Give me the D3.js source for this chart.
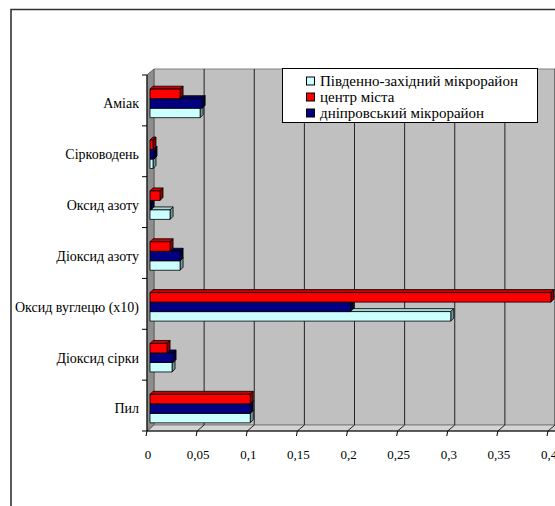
<!DOCTYPE html>
<html>
<head>
<meta charset="utf-8">
<script src="https://cdn.jsdelivr.net/npm/d3@7"></script>
<style>
  html, body { margin: 0; padding: 0; background: #fff; }
  svg { display: block; }
</style>
</head>
<body>
<svg id="chart" width="555" height="506"></svg>
<script>
// Pollutant categories, listed top to bottom
const categories = ["Аміак", "Сірководень", "Оксид азоту", "Діоксид азоту",
                    "Оксид вуглецю (x10)", "Діоксид сірки", "Пил"];

// Concentrations per district (same order as categories)
const southWest = [0.05, 0.003, 0.02, 0.03, 0.3, 0.022, 0.1];
const cityCenter = [0.03, 0.003, 0.01, 0.02, 0.4, 0.017, 0.1];
const dnipro = [0.052, 0.004, 0.001, 0.03, 0.2, 0.023, 0.1];

const xTicks = [0, 0.05, 0.1, 0.15, 0.2, 0.25, 0.3, 0.35, 0.4];
const xTickLabels = ["0", "0,05", "0,1", "0,15", "0,2", "0,25", "0,3", "0,35", "0,4"];

// Series as they are stacked in each group (top to bottom)
const series = [
  { name: "центр міста", values: cityCenter, front: "#FF0000", top: "#C80000", side: "#8C0000" },
  { name: "дніпровський мікрорайон", values: dnipro, front: "#000080", top: "#000060", side: "#000040" },
  { name: "Південно-західний мікрорайон", values: southWest, front: "#CCFFFF", top: "#A6D6D6", side: "#6E9A9A" }
];
const legendOrder = [2, 0, 1];

const FONT = "'Liberation Serif', 'Times New Roman', serif";
const svg = d3.select("#chart");

// Outer chart frame
svg.append("path")
  .attr("d", "M11,506 L11,9.5 L555,9.5")
  .attr("fill", "none").attr("stroke", "#333").attr("stroke-width", 1.6);

// Front plane geometry and depth offset of the walls
const x = d3.scaleLinear().domain([0, 0.4]).range([147, 548]);
const y = d3.scaleBand().domain(categories).range([75, 431]).padding(0);
const depth = { dx: 7, dy: -6 };
const yTop = 75, yBot = 431;

// Back wall
svg.append("path")
  .attr("d", `M${x(0) + depth.dx},${yTop + depth.dy} L${x(0.4) + depth.dx + 20},${yTop + depth.dy} L${x(0.4) + depth.dx + 20},${yBot + depth.dy} L${x(0) + depth.dx},${yBot + depth.dy} Z`)
  .attr("fill", "#C0C0C0").attr("stroke", "#808080").attr("stroke-width", 1);

// Floor
svg.append("path")
  .attr("d", `M${x(0)},${yBot} L${x(0) + depth.dx},${yBot + depth.dy} L${x(0.4) + depth.dx + 20},${yBot + depth.dy} L${x(0.4) + 20},${yBot} Z`)
  .attr("fill", "#D4D4D4").attr("stroke", "#808080").attr("stroke-width", 1);

// Side wall
svg.append("path")
  .attr("d", `M${x(0)},${yTop} L${x(0) + depth.dx},${yTop + depth.dy} L${x(0) + depth.dx},${yBot + depth.dy} L${x(0)},${yBot} Z`)
  .attr("fill", "#8E8E8E").attr("stroke", "#606060").attr("stroke-width", 1);

// Gridlines on the back wall and their continuation across the floor
const grid = svg.append("g");
xTicks.filter(v => v > 0).forEach(v => {
  grid.append("line")
    .attr("x1", x(v) + depth.dx).attr("x2", x(v) + depth.dx)
    .attr("y1", yTop + depth.dy).attr("y2", yBot + depth.dy)
    .attr("stroke", "#222").attr("stroke-width", 1);
  grid.append("line")
    .attr("x1", x(v)).attr("y1", yBot)
    .attr("x2", x(v) + depth.dx).attr("y2", yBot + depth.dy)
    .attr("stroke", "#222").attr("stroke-width", 1);
});

// Bars: each drawn as a small box with front, top and side faces
const barDepth = 3;
const groupH = 28.5;
const barH = groupH / series.length;
const bars = svg.append("g");
categories.forEach((c, i) => {
  const gy = y(c) + 3 + (y.bandwidth() - groupH) / 2;
  // lower bars first so the bars above cover their top faces
  for (let s = series.length - 1; s >= 0; s--) {
    const sr = series[s];
    const v = sr.values[i];
    const x0 = x(0) + barDepth, x1 = x(v) + barDepth;
    const y0 = gy + s * barH, y1 = y0 + barH;
    const g = bars.append("g").attr("stroke", "#000").attr("stroke-width", 0.8).attr("stroke-linejoin", "round");
    g.append("path")
      .attr("d", `M${x0},${y0} L${x0 + barDepth},${y0 - barDepth} L${x1 + barDepth},${y0 - barDepth} L${x1},${y0} Z`)
      .attr("fill", sr.top);
    g.append("path")
      .attr("d", `M${x1},${y0} L${x1 + barDepth},${y0 - barDepth} L${x1 + barDepth},${y1 - barDepth} L${x1},${y1} Z`)
      .attr("fill", sr.side);
    g.append("rect")
      .attr("x", x0).attr("y", y0).attr("width", Math.max(0, x1 - x0)).attr("height", barH)
      .attr("fill", sr.front);
  }
});

// Value axis along the front edge of the floor
const axis = svg.append("g");
axis.append("line")
  .attr("x1", x(0)).attr("x2", x(0.4) + 7).attr("y1", yBot).attr("y2", yBot)
  .attr("stroke", "#000").attr("stroke-width", 1);
xTicks.forEach((v, k) => {
  axis.append("line")
    .attr("x1", x(v)).attr("x2", x(v) - 1).attr("y1", yBot).attr("y2", yBot + 5)
    .attr("stroke", "#000").attr("stroke-width", 1);
  axis.append("text")
    .attr("x", x(v) + 1).attr("y", 459)
    .attr("text-anchor", "middle")
    .attr("font-family", FONT).attr("font-size", 13)
    .text(xTickLabels[k]);
});

// Category axis along the front edge of the side wall
axis.append("line")
  .attr("x1", x(0)).attr("x2", x(0)).attr("y1", yTop).attr("y2", yBot)
  .attr("stroke", "#000").attr("stroke-width", 1);
d3.range(categories.length + 1).forEach(k => {
  const ty = yTop + k * y.step();
  axis.append("line")
    .attr("x1", x(0) - 5).attr("x2", x(0)).attr("y1", ty).attr("y2", ty)
    .attr("stroke", "#000").attr("stroke-width", 1);
});
categories.forEach(c => {
  axis.append("text")
    .attr("x", 139).attr("y", y(c) + y.bandwidth() / 2 + 3)
    .attr("dy", "0.35em")
    .attr("text-anchor", "end")
    .attr("font-family", FONT).attr("font-size", 14)
    .text(c);
});

// Legend
const lg = svg.append("g");
lg.append("rect")
  .attr("x", 282.5).attr("y", 68.5).attr("width", 255).attr("height", 54)
  .attr("fill", "#fff").attr("stroke", "#000").attr("stroke-width", 1);
legendOrder.forEach((s, k) => {
  const ly = 81 + k * 16;
  lg.append("rect")
    .attr("x", 306.5).attr("y", ly - 4).attr("width", 8).attr("height", 8)
    .attr("fill", series[s].front).attr("stroke", "#000").attr("stroke-width", 1);
  lg.append("text")
    .attr("x", 320).attr("y", ly).attr("dy", "0.35em")
    .attr("font-family", FONT).attr("font-size", 15)
    .text(series[s].name);
});
</script>
</body>
</html>
